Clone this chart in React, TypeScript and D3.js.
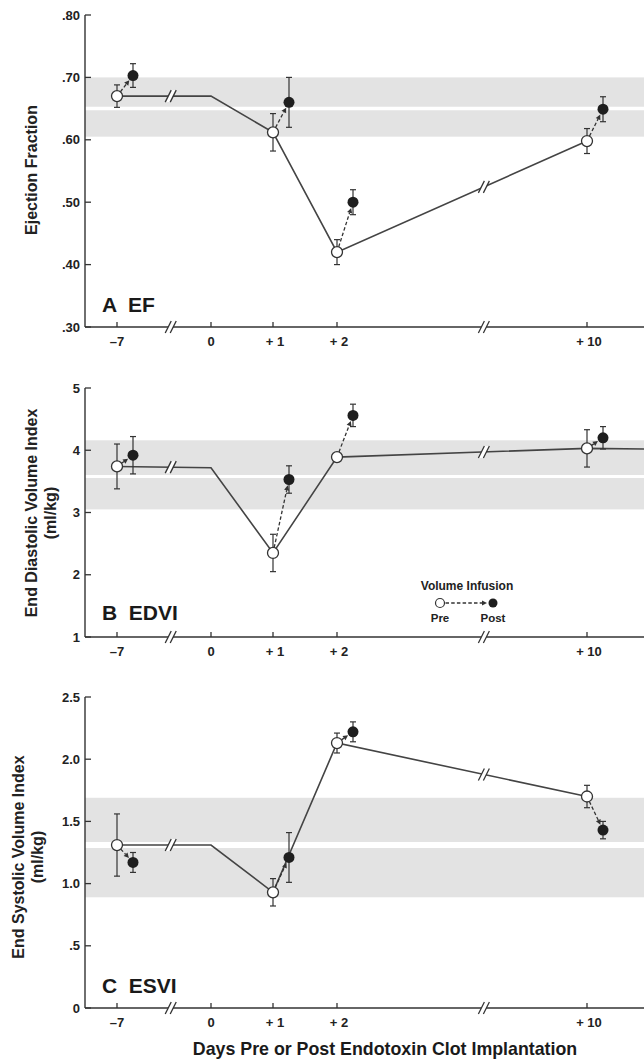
import React from "react";
import * as d3 from "d3";

// ---------- data ----------
const markerDays = [-7, 1, 2, 10];
const lineDays = [-7, 0, 1, 2, 10];
const xTickDays = [-7, 0, 1, 2, 10];
const xTickLabels = ["–7", "0", "+ 1", "+ 2", "+ 10"];
const breakDays = [-3, 6.7];

const efPre = [0.67, 0.612, 0.42, 0.598];
const efPreErr = [0.018, 0.03, 0.02, 0.02];
const efPost = [0.703, 0.66, 0.5, 0.649];
const efPostErr = [0.019, 0.04, 0.02, 0.02];
const efDay0 = 0.67;
const efBand = [0.605, 0.7];
const efNormal = 0.65;
const efTicks = [0.3, 0.4, 0.5, 0.6, 0.7, 0.8];
const efTickLabels = [".30", ".40", ".50", ".60", ".70", ".80"];

const edviPre = [3.74, 2.35, 3.89, 4.03];
const edviPreErr = [0.36, 0.3, 0.06, 0.3];
const edviPost = [3.92, 3.53, 4.56, 4.2];
const edviPostErr = [0.3, 0.22, 0.18, 0.18];
const edviDay0 = 3.72;
const edviTail = 4.02;
const edviBand = [3.05, 4.16];
const edviNormal = 3.58;
const edviTicks = [1, 2, 3, 4, 5];
const edviTickLabels = ["1", "2", "3", "4", "5"];

const esviPre = [1.31, 0.93, 2.13, 1.7];
const esviPreErr = [0.25, 0.11, 0.08, 0.09];
const esviPost = [1.17, 1.21, 2.22, 1.43];
const esviPostErr = [0.08, 0.2, 0.08, 0.07];
const esviDay0 = 1.31;
const esviBand = [0.89, 1.69];
const esviNormal = 1.31;
const esviTicks = [0, 0.5, 1, 1.5, 2, 2.5];
const esviTickLabels = ["0", ".5", "1.0", "1.5", "2.0", "2.5"];

// ---------- layout ----------
const W = 644;
const H = 1059;
const AXIS_X = 85;
const POST_DX = 16;
const R = 5.5;
const FONT = "'Liberation Sans', Arial, Helvetica, sans-serif";
const INK = "#333";

const xScale = d3
  .scaleLinear()
  .domain([-7, 0, 1, 2, 10])
  .range([117, 211, 273, 337, 587]);

type Panel = {
  label: string;
  labelY: number;
  yLabel: string[];
  yLabelX: number[];
  yLabelCY: number;
  domain: [number, number];
  range: [number, number];
  ticks: number[];
  tickLabels: string[];
  pre: number[];
  preErr: number[];
  post: number[];
  postErr: number[];
  day0: number;
  tail?: number;
  band: number[];
  normal: number;
  normalW: number;
};

const panels: Panel[] = [
  {
    label: "A  EF",
    labelY: 312,
    yLabel: ["Ejection Fraction"],
    yLabelX: [37],
    yLabelCY: 170,
    domain: [0.3, 0.8],
    range: [327, 15],
    ticks: efTicks,
    tickLabels: efTickLabels,
    pre: efPre,
    preErr: efPreErr,
    post: efPost,
    postErr: efPostErr,
    day0: efDay0,
    band: efBand,
    normal: efNormal,
    normalW: 3.5,
  },
  {
    label: "B  EDVI",
    labelY: 620,
    yLabel: ["End Diastolic Volume Index", "(ml/kg)"],
    yLabelX: [37, 56],
    yLabelCY: 513,
    domain: [1, 5],
    range: [637, 388],
    ticks: edviTicks,
    tickLabels: edviTickLabels,
    pre: edviPre,
    preErr: edviPreErr,
    post: edviPost,
    postErr: edviPostErr,
    day0: edviDay0,
    tail: edviTail,
    band: edviBand,
    normal: edviNormal,
    normalW: 3,
  },
  {
    label: "C  ESVI",
    labelY: 993,
    yLabel: ["End Systolic Volume Index", "(ml/kg)"],
    yLabelX: [24, 43],
    yLabelCY: 857,
    domain: [0, 2.5],
    range: [1008, 697],
    ticks: esviTicks,
    tickLabels: esviTickLabels,
    pre: esviPre,
    preErr: esviPreErr,
    post: esviPost,
    postErr: esviPostErr,
    day0: esviDay0,
    band: esviBand,
    normal: esviNormal,
    normalW: 6,
  },
];

function BreakMark({ x, y }: { x: number; y: number }) {
  const g = 2.5;
  const dx = 3;
  const dy = 6;
  return (
    <g>
      <polygon
        points={`${x - g - dx},${y + dy} ${x - g + dx},${y - dy} ${x + g + dx},${y - dy} ${x + g - dx},${y + dy}`}
        fill="#fff"
      />
      <line x1={x - g - dx} y1={y + dy} x2={x - g + dx} y2={y - dy} stroke={INK} strokeWidth={1.3} />
      <line x1={x + g - dx} y1={y + dy} x2={x + g + dx} y2={y - dy} stroke={INK} strokeWidth={1.3} />
    </g>
  );
}

function ErrBar({ x, y1, y2 }: { x: number; y1: number; y2: number }) {
  return (
    <g stroke={INK} strokeWidth={1.2}>
      <line x1={x} x2={x} y1={y1} y2={y2} />
      <line x1={x - 3} x2={x + 3} y1={y1} y2={y1} />
      <line x1={x - 3} x2={x + 3} y1={y2} y2={y2} />
    </g>
  );
}

function Arrow({ x1, y1, x2, y2 }: { x1: number; y1: number; x2: number; y2: number }) {
  const dx = x2 - x1;
  const dy = y2 - y1;
  const len = Math.sqrt(dx * dx + dy * dy);
  const ux = dx / len;
  const uy = dy / len;
  const sx = x1 + ux * R;
  const sy = y1 + uy * R;
  const ex = x2 - ux * (R + 0.5);
  const ey = y2 - uy * (R + 0.5);
  const ah = 5;
  const aw = 2.6;
  const bx = ex - ux * ah;
  const by = ey - uy * ah;
  return (
    <g>
      <line x1={sx} y1={sy} x2={bx} y2={by} stroke={INK} strokeWidth={1.3} strokeDasharray="3.5,2.2" />
      <polygon
        points={`${ex},${ey} ${bx - uy * aw},${by + ux * aw} ${bx + uy * aw},${by - ux * aw}`}
        fill={INK}
      />
    </g>
  );
}

function PanelView({ p }: { p: Panel }) {
  const y = d3.scaleLinear().domain(p.domain).range(p.range);
  const baseY = p.range[0];
  const topY = p.range[1];
  const lineVals = [p.pre[0], p.day0, p.pre[1], p.pre[2], p.pre[3]];
  const pts: [number, number][] = lineDays.map((d, i) => [xScale(d), y(lineVals[i])]);
  if (p.tail !== undefined) pts.push([W, y(p.tail)]);
  const linePath = d3.line()(pts) || "";
  const interp = (bx: number) => {
    for (let i = 0; i < pts.length - 1; i++) {
      const [ax, ay] = pts[i];
      const [cx, cy] = pts[i + 1];
      if (bx >= ax && bx <= cx) return ay + ((bx - ax) / (cx - ax)) * (cy - ay);
    }
    return pts[0][1];
  };
  const cy = p.yLabelCY;
  return (
    <g>
      <rect
        x={AXIS_X}
        y={y(p.band[1])}
        width={W - AXIS_X}
        height={y(p.band[0]) - y(p.band[1])}
        fill="#e3e3e3"
      />
      <line x1={AXIS_X} x2={W} y1={y(p.normal)} y2={y(p.normal)} stroke="#fff" strokeWidth={p.normalW} />
      <line x1={AXIS_X} x2={AXIS_X} y1={topY} y2={baseY} stroke={INK} strokeWidth={1.4} />
      {p.ticks.map((t, i) => (
        <g key={i}>
          <line x1={AXIS_X} x2={AXIS_X + 6} y1={y(t)} y2={y(t)} stroke={INK} strokeWidth={1.3} />
          <text
            x={AXIS_X - 5}
            y={y(t)}
            dy="0.36em"
            textAnchor="end"
            fontFamily={FONT}
            fontWeight="bold"
            fontSize={13}
            fill="#222"
          >
            {p.tickLabels[i]}
          </text>
        </g>
      ))}
      <line x1={AXIS_X} x2={W} y1={baseY} y2={baseY} stroke={INK} strokeWidth={1.4} />
      {xTickDays.map((d, i) => (
        <g key={i}>
          <line x1={xScale(d)} x2={xScale(d)} y1={baseY} y2={baseY - 5} stroke={INK} strokeWidth={1.3} />
          <text
            x={xScale(d) + (i >= 2 ? 2 : 0)}
            y={baseY + 19}
            textAnchor="middle"
            fontFamily={FONT}
            fontWeight="bold"
            fontSize={13}
            fill="#222"
            xmlSpace="preserve"
          >
            {xTickLabels[i]}
          </text>
        </g>
      ))}
      {breakDays.map((d, i) => (
        <BreakMark key={i} x={xScale(d)} y={baseY} />
      ))}
      <path d={linePath} fill="none" stroke="#444" strokeWidth={1.6} />
      {breakDays.map((d, i) => (
        <BreakMark key={i} x={xScale(d)} y={interp(xScale(d))} />
      ))}
      {markerDays.map((d, i) => (
        <g key={i}>
          <ErrBar x={xScale(d)} y1={y(p.pre[i] + p.preErr[i])} y2={y(p.pre[i] - p.preErr[i])} />
          <ErrBar
            x={xScale(d) + POST_DX}
            y1={y(p.post[i] + p.postErr[i])}
            y2={y(p.post[i] - p.postErr[i])}
          />
        </g>
      ))}
      {markerDays.map((d, i) => (
        <Arrow key={i} x1={xScale(d)} y1={y(p.pre[i])} x2={xScale(d) + POST_DX} y2={y(p.post[i])} />
      ))}
      {markerDays.map((d, i) => (
        <g key={i}>
          <circle cx={xScale(d)} cy={y(p.pre[i])} r={R} fill="#fff" stroke={INK} strokeWidth={1.3} />
          <circle cx={xScale(d) + POST_DX} cy={y(p.post[i])} r={R} fill="#1e1e1e" />
        </g>
      ))}
      <text x={102} y={p.labelY} fontFamily={FONT} fontWeight="bold" fontSize={21} fill="#1a1a1a" xmlSpace="preserve">
        {p.label}
      </text>
      {p.yLabel.map((s, i) => (
        <text
          key={i}
          transform={`translate(${p.yLabelX[i]},${cy}) rotate(-90)`}
          textAnchor="middle"
          fontFamily={FONT}
          fontWeight="bold"
          fontSize={16}
          fill="#222"
        >
          {s}
        </text>
      ))}
    </g>
  );
}

function Legend() {
  const ox = 440;
  const fx = 493;
  const ly = 603;
  return (
    <g fontFamily={FONT} fontWeight="bold" fill="#222">
      <text x={467} y={590} textAnchor="middle" fontSize={12}>
        Volume Infusion
      </text>
      <Arrow x1={ox} y1={ly} x2={fx} y2={ly} />
      <circle cx={ox} cy={ly} r={4.5} fill="#fff" stroke={INK} strokeWidth={1.2} />
      <circle cx={fx} cy={ly} r={4.5} fill="#1e1e1e" />
      <text x={ox} y={622} textAnchor="middle" fontSize={11.5}>
        Pre
      </text>
      <text x={fx} y={622} textAnchor="middle" fontSize={11.5}>
        Post
      </text>
    </g>
  );
}

export default function App() {
  return (
    <svg
      width={W}
      height={H}
      viewBox={`0 0 ${W} ${H}`}
      style={{ position: "absolute", left: 0, top: 0, background: "#fff" }}
    >
      <rect width={W} height={H} fill="#fff" />
      {panels.map((p, i) => (
        <PanelView key={i} p={p} />
      ))}
      <Legend />
      <text
        x={385}
        y={1055}
        textAnchor="middle"
        fontFamily={FONT}
        fontWeight="bold"
        fontSize={17.8}
        fill="#1a1a1a"
      >
        Days Pre or Post Endotoxin Clot Implantation
      </text>
    </svg>
  );
}
